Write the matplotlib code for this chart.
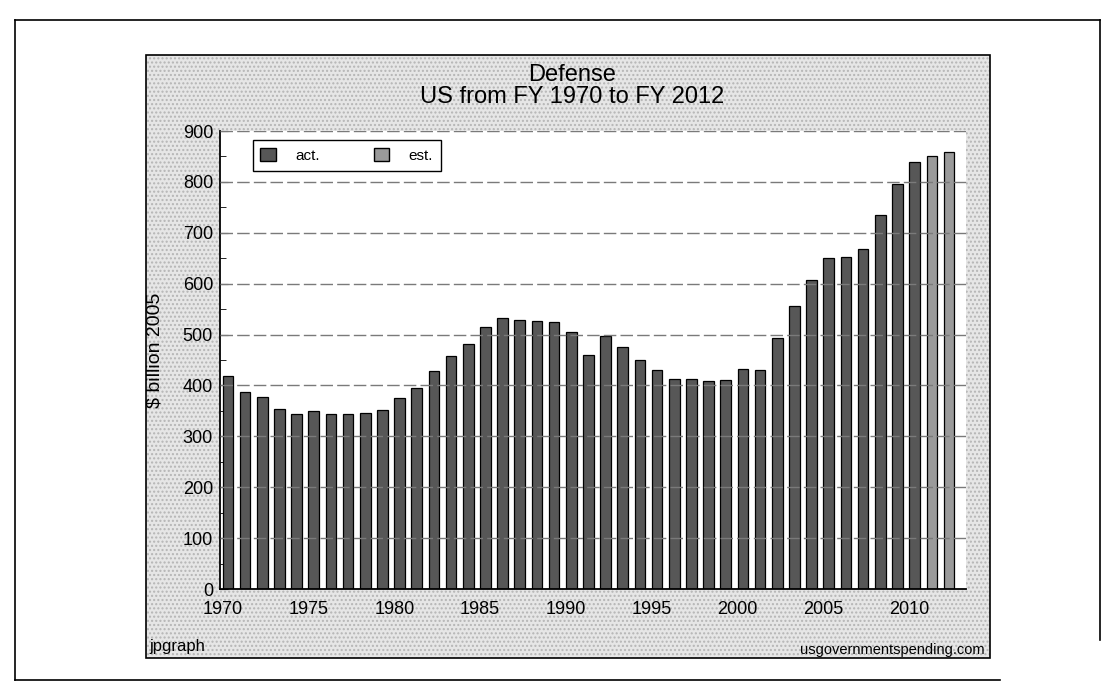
import matplotlib
matplotlib.use("Agg")
import matplotlib.pyplot as plt
from matplotlib.lines import Line2D
from matplotlib.patches import Rectangle, Patch

plt.rcParams['font.family'] = ['Liberation Sans', 'DejaVu Sans']

# values, $ billion 2005
years = list(range(1970, 2013))
spending = [418, 388, 378, 353, 343, 350, 343, 343, 345, 352,
            376, 395, 428, 457, 482, 514, 533, 529, 526, 525,
            505, 460, 497, 475, 450, 430, 412, 413, 408, 411,
            433, 431, 493, 556, 607, 650, 653, 669, 734, 795,
            840, 851, 859]
first_est_year = 2011
tick_years = [1970, 1975, 1980, 1985, 1990, 1995, 2000, 2005, 2010]
y_ticks = [0, 100, 200, 300, 400, 500, 600, 700, 800, 900]

ACT = '#575757'
EST = '#9a9a9a'
W, H = 1107, 696

fig = plt.figure(figsize=(W / 100, H / 100), dpi=100)

# page border of the scanned sheet
for (x0, y0, x1, y1) in [(15, 20, 1100, 20), (15, 20, 15, 680), (15, 680, 1000, 680),
                         (1100, 20, 1100, 640)]:
    fig.add_artist(Line2D([x0 / W, x1 / W], [1 - y0 / H, 1 - y1 / H],
                          color='black', lw=1.2, transform=fig.transFigure))

# grey jpgraph panel
px0, py0, px1, py1 = 146, 55, 990, 658
fig.patches.append(Rectangle((px0 / W, 1 - py1 / H), (px1 - px0) / W, (py1 - py0) / H,
                             transform=fig.transFigure, facecolor='#e6e6e6',
                             edgecolor='#b5b5b5', hatch='....', lw=0, zorder=-2))
fig.patches.append(Rectangle((px0 / W, 1 - py1 / H), (px1 - px0) / W, (py1 - py0) / H,
                             transform=fig.transFigure, facecolor='none',
                             edgecolor='black', lw=1.2, zorder=-1))

ax = fig.add_axes([220 / W, 1 - 589 / H, (966 - 220) / W, (589 - 131) / H])
ax.set_zorder(2)
ax.set_facecolor('white')

idx = list(range(len(years)))
colors = [EST if y >= first_est_year else ACT for y in years]
ax.bar(idx, spending, width=0.62, align='edge', color=colors,
       edgecolor='black', linewidth=0.9, zorder=2)

for v in y_ticks[1:]:
    ax.axhline(v, color='#7a7a7a', lw=1.0, ls=(0, (9, 3)), zorder=3)

ax.set_xlim(-0.15, 43.3)
ax.set_ylim(0, 900)
ax.set_xticks([years.index(y) for y in tick_years])
ax.set_xticklabels([str(y) for y in tick_years], fontsize=13)
ax.set_yticks(y_ticks)
ax.set_yticklabels([str(v) for v in y_ticks], fontsize=13)
ax.set_yticks(range(50, 900, 100), minor=True)
ax.tick_params(axis='x', length=0, pad=9)
ax.tick_params(axis='y', which='major', direction='in', length=6, pad=5)
ax.tick_params(axis='y', which='minor', direction='in', length=4)
for s in ('top', 'right'):
    ax.spines[s].set_visible(False)
ax.spines['left'].set_linewidth(1.3)
ax.spines['bottom'].set_linewidth(1.3)

leg = ax.legend(handles=[Patch(facecolor=ACT, edgecolor='black', label='act.'),
                         Patch(facecolor=EST, edgecolor='black', label='est.')],
                loc='upper left', bbox_to_anchor=(0.044, 0.98), ncol=2,
                fontsize=11, fancybox=False, framealpha=1, edgecolor='black',
                handlelength=1.0, handleheight=1.0, handletextpad=1.3,
                columnspacing=3.5, borderpad=0.5, borderaxespad=0)
leg.get_frame().set_linewidth(1.0)

fig.text(572 / W, 1 - 75 / H, 'Defense', ha='center', va='center', fontsize=17)
fig.text(572 / W, 1 - 97 / H, 'US from FY 1970 to FY 2012', ha='center', va='center',
         fontsize=17)
fig.text(155 / W, 1 - 350 / H, '$ billion 2005', rotation=90, ha='center',
         va='center', fontsize=14)
fig.text(149 / W, 1 - 647 / H, 'jpgraph', ha='left', va='center', fontsize=12)
fig.text(985 / W, 1 - 650 / H, 'usgovernmentspending.com', ha='right', va='center',
         fontsize=10.5)

fig.savefig('out.png', dpi=100)
